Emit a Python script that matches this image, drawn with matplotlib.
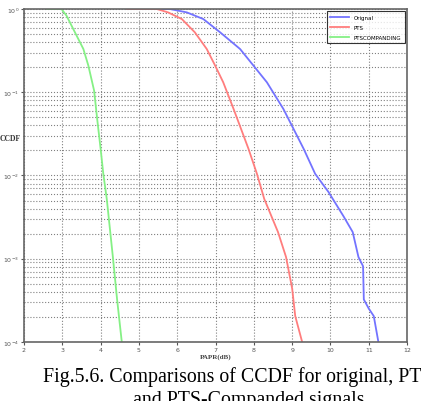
import numpy as np
import matplotlib
matplotlib.use('Agg')
import matplotlib.pyplot as plt
import matplotlib.ticker as mtick


# ______________________ datos ______________________
# PAPR (dB) y log10(CCDF) de cada curva

papr_orig = [5.47, 5.81, 6.25, 6.68, 7.12, 7.64, 7.99, 8.34, 8.77, 9.3, 9.6,
             9.95, 10.34, 10.58, 10.73, 10.85, 10.87, 11.0, 11.13, 11.25]
logccdf_orig = [0, 0, -0.04, -0.12, -0.28, -0.48, -0.68, -0.88, -1.2, -1.68,
                -1.98, -2.2, -2.49, -2.68, -2.98, -3.09, -3.49, -3.6, -3.69, -4.0]

papr_pts = [4.69, 5.47, 5.76, 6.12, 6.46, 6.77, 6.99, 7.2, 7.47, 7.86, 8.08,
            8.27, 8.45, 8.63, 8.84, 9.0, 9.08, 9.26]
logccdf_pts = [0, 0, -0.04, -0.12, -0.28, -0.48, -0.68, -0.88, -1.2, -1.68,
               -1.98, -2.28, -2.48, -2.68, -2.98, -3.36, -3.69, -4.0]

papr_comp = [2.6, 2.98, 3.11, 3.33, 3.55, 3.68, 3.83, 3.91, 4.0, 4.07, 4.16,
             4.32, 4.43, 4.55]
logccdf_comp = [0, 0, -0.08, -0.28, -0.48, -0.68, -0.98, -1.32, -1.68, -1.98,
                -2.28, -2.98, -3.49, -3.99]

etiquetas = ['Orignal', 'PTS', 'PTSCOMPANDING']


# ______________________ grafica ______________________

fig = plt.figure(figsize=(4.21, 4.02), dpi=100)
ax = fig.add_axes([0.057, 0.147, 0.910, 0.828])

ax.semilogy(papr_orig, 10 ** np.array(logccdf_orig), color='#7373ff', lw=1.3, label=etiquetas[0])
ax.semilogy(papr_pts, 10 ** np.array(logccdf_pts), color='#ff7d7d', lw=1.3, label=etiquetas[1])
ax.semilogy(papr_comp, 10 ** np.array(logccdf_comp), color='#85f085', lw=1.3, label=etiquetas[2])

ax.set_xlim(2, 12)
ax.set_ylim(1e-4, 1)
ax.set_xticks(range(2, 13))
ax.yaxis.set_major_locator(mtick.LogLocator(base=10, numticks=10))
ax.yaxis.set_minor_locator(mtick.LogLocator(base=10, subs=np.arange(2, 10), numticks=20))
ax.yaxis.set_minor_formatter(mtick.NullFormatter())

ax.grid(True, which='major', linestyle=':', color='#808080', lw=0.8)
ax.grid(True, which='minor', axis='y', linestyle=':', color='#808080', lw=0.8)
ax.tick_params(labelsize=4.5, length=2, colors='#555555', pad=1.5)
ax.tick_params(which='minor', length=1)
for s in ax.spines.values():
    s.set_color('#666666')
    s.set_linewidth(1.2)

ax.set_xlabel('PAPR(dB)', fontsize=5, fontweight='bold', family='Liberation Serif',
              color='#444444', labelpad=1)
ax.set_ylabel('CCDF', fontsize=5.5, fontweight='bold', family='Liberation Serif',
              color='#333333', rotation=0, labelpad=1)
ax.yaxis.set_label_coords(-0.035, 0.6)

leg = ax.legend(loc='upper right', fontsize=4, frameon=True, fancybox=False,
                edgecolor='black', handlelength=3.5, borderpad=0.6,
                labelspacing=0.9, borderaxespad=0.4)
leg.get_frame().set_linewidth(0.8)

fig.text(43 / 421, 1 - 377 / 402, 'Fig.5.6. Comparisons of CCDF for original, PTS',
         fontsize=14.3, family='Liberation Serif', va='center', ha='left')
fig.text(133 / 421, 1 - 401 / 402, 'and PTS-Companded signals',
         fontsize=14.3, family='Liberation Serif', va='center', ha='left')

fig.savefig('out.png', dpi=100)
